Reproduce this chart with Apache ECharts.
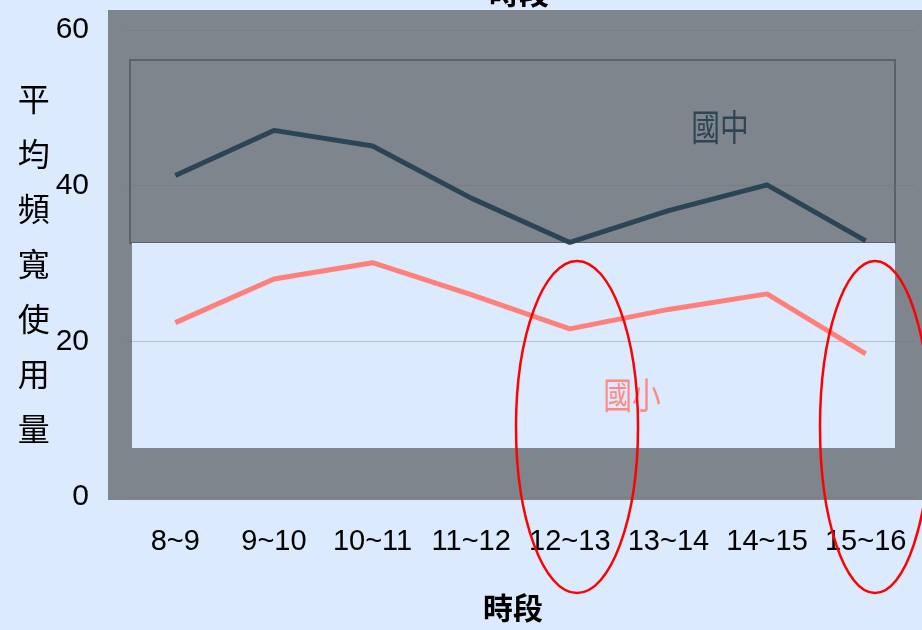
<!DOCTYPE html>
<html>
<head>
<meta charset="utf-8">
<script src="https://cdn.jsdelivr.net/npm/echarts@6/dist/echarts.min.js"></script>
<style>
html,body{margin:0;padding:0;background:#dbeafc;}
#main{width:922px;height:630px;}
</style>
</head>
<body>
<div id="main"></div>
<script>
var categories = ['8~9','9~10','10~11','11~12','12~13','13~14','14~15','15~16'];
var juniorHigh = [41.3, 47.1, 45.1, 38.4, 32.7, 36.8, 40.1, 32.9];
var elementary = [22.4, 28.0, 30.1, 26.0, 21.6, 24.1, 26.1, 18.4];
var yTicks = [0, 20, 40, 60];
var seriesNames = ['國中', '國小'];
var axisTitle = '時段';
var yAxisTitle = '平均頻寬使用量';

// detect narrow font availability
function hasFont(name) {
  var c = document.createElement('canvas').getContext('2d');
  var s = '10~11 0123456789';
  c.font = '40px monospace';
  var w1 = c.measureText(s).width;
  c.font = '40px "' + name + '", monospace';
  var w2 = c.measureText(s).width;
  return Math.abs(w1 - w2) > 0.5;
}
var narrow = hasFont('Liberation Sans Narrow');
var numFont = narrow ? '"Liberation Sans Narrow", sans-serif' : '"Liberation Sans", sans-serif';
var xLabelSize = narrow ? 34 : 29;
var yLabelSize = narrow ? 34 : 30;
var cjkFont = '"Noto Sans CJK TC", "Noto Sans CJK SC", sans-serif';

var chart = echarts.init(document.getElementById('main'));
chart.setOption({
  backgroundColor: '#dbeafc',
  animation: false,
  title: {
    text: axisTitle,
    left: 484,
    top: -27,
    textStyle: {fontFamily: cjkFont, fontSize: 30, fontWeight: 'bold', color: '#000'}
  },
  grid: {left: 126, right: 7, top: 30, bottom: 133, containLabel: false, outerBoundsMode: 'none'},
  xAxis: {
    type: 'category',
    data: categories,
    boundaryGap: true,
    name: axisTitle,
    nameLocation: 'middle',
    nameGap: 96,
    nameTextStyle: {fontFamily: cjkFont, fontSize: 30, color: '#000', fontWeight: 'bold', padding: [0, 15, 0, 0]},
    axisLine: {show: false},
    axisTick: {show: false},
    axisLabel: {fontFamily: numFont, fontSize: xLabelSize, color: '#000', margin: 30, interval: 0}
  },
  yAxis: {
    type: 'value',
    min: yTicks[0],
    max: yTicks[yTicks.length - 1],
    interval: 20,
    name: yAxisTitle.split('').join('\n'),
    nameLocation: 'middle',
    nameGap: 74,
    nameRotate: 0,
    nameTextStyle: {fontFamily: cjkFont, fontSize: 32, color: '#000', lineHeight: 55, padding: [8, 0, 0, 0]},
    axisLine: {show: false},
    axisTick: {show: false},
    axisLabel: {fontFamily: numFont, fontSize: yLabelSize, color: '#000', margin: 37},
    splitLine: {lineStyle: {color: 'rgba(120,110,110,0.35)', width: 1}}
  },
  graphic: [
    {type: 'rect', z: -10, shape: {x: 108, y: 10, width: 830, height: 490}, style: {fill: '#7f858d'}},
    {type: 'rect', z: -9, shape: {x: 130, y: 60, width: 765, height: 183}, style: {fill: '#7f858d', stroke: '#5e6165', lineWidth: 2}},
    {type: 'rect', z: -8, shape: {x: 132, y: 243, width: 763, height: 205}, style: {fill: '#dbeafc'}},
    {type: 'text', z: 50, x: 720, y: 127, scaleX: 0.8, style: {text: seriesNames[0], x: 0, y: 0, fill: '#2e4654', font: '36px ' + cjkFont, textAlign: 'center', textVerticalAlign: 'middle'}},
    {type: 'text', z: 50, x: 632, y: 395, scaleX: 0.8, style: {text: seriesNames[1], x: 0, y: 0, fill: '#ff8a84', font: '36px ' + cjkFont, textAlign: 'center', textVerticalAlign: 'middle'}},
    {type: 'ellipse', z: 100, shape: {cx: 577, cy: 427, rx: 61, ry: 166}, style: {fill: 'none', stroke: '#ff0000', lineWidth: 2.5}},
    {type: 'ellipse', z: 100, shape: {cx: 875, cy: 427, rx: 55, ry: 166}, style: {fill: 'none', stroke: '#ff0000', lineWidth: 2.5}}
  ],
  series: [
    {name: seriesNames[0], type: 'line', data: juniorHigh, symbol: 'none', lineStyle: {color: '#2c4554', width: 5}, z: 3},
    {name: seriesNames[1], type: 'line', data: elementary, symbol: 'none', lineStyle: {color: '#ff7f7a', width: 5}, z: 3}
  ]
});
</script>
</body>
</html>
